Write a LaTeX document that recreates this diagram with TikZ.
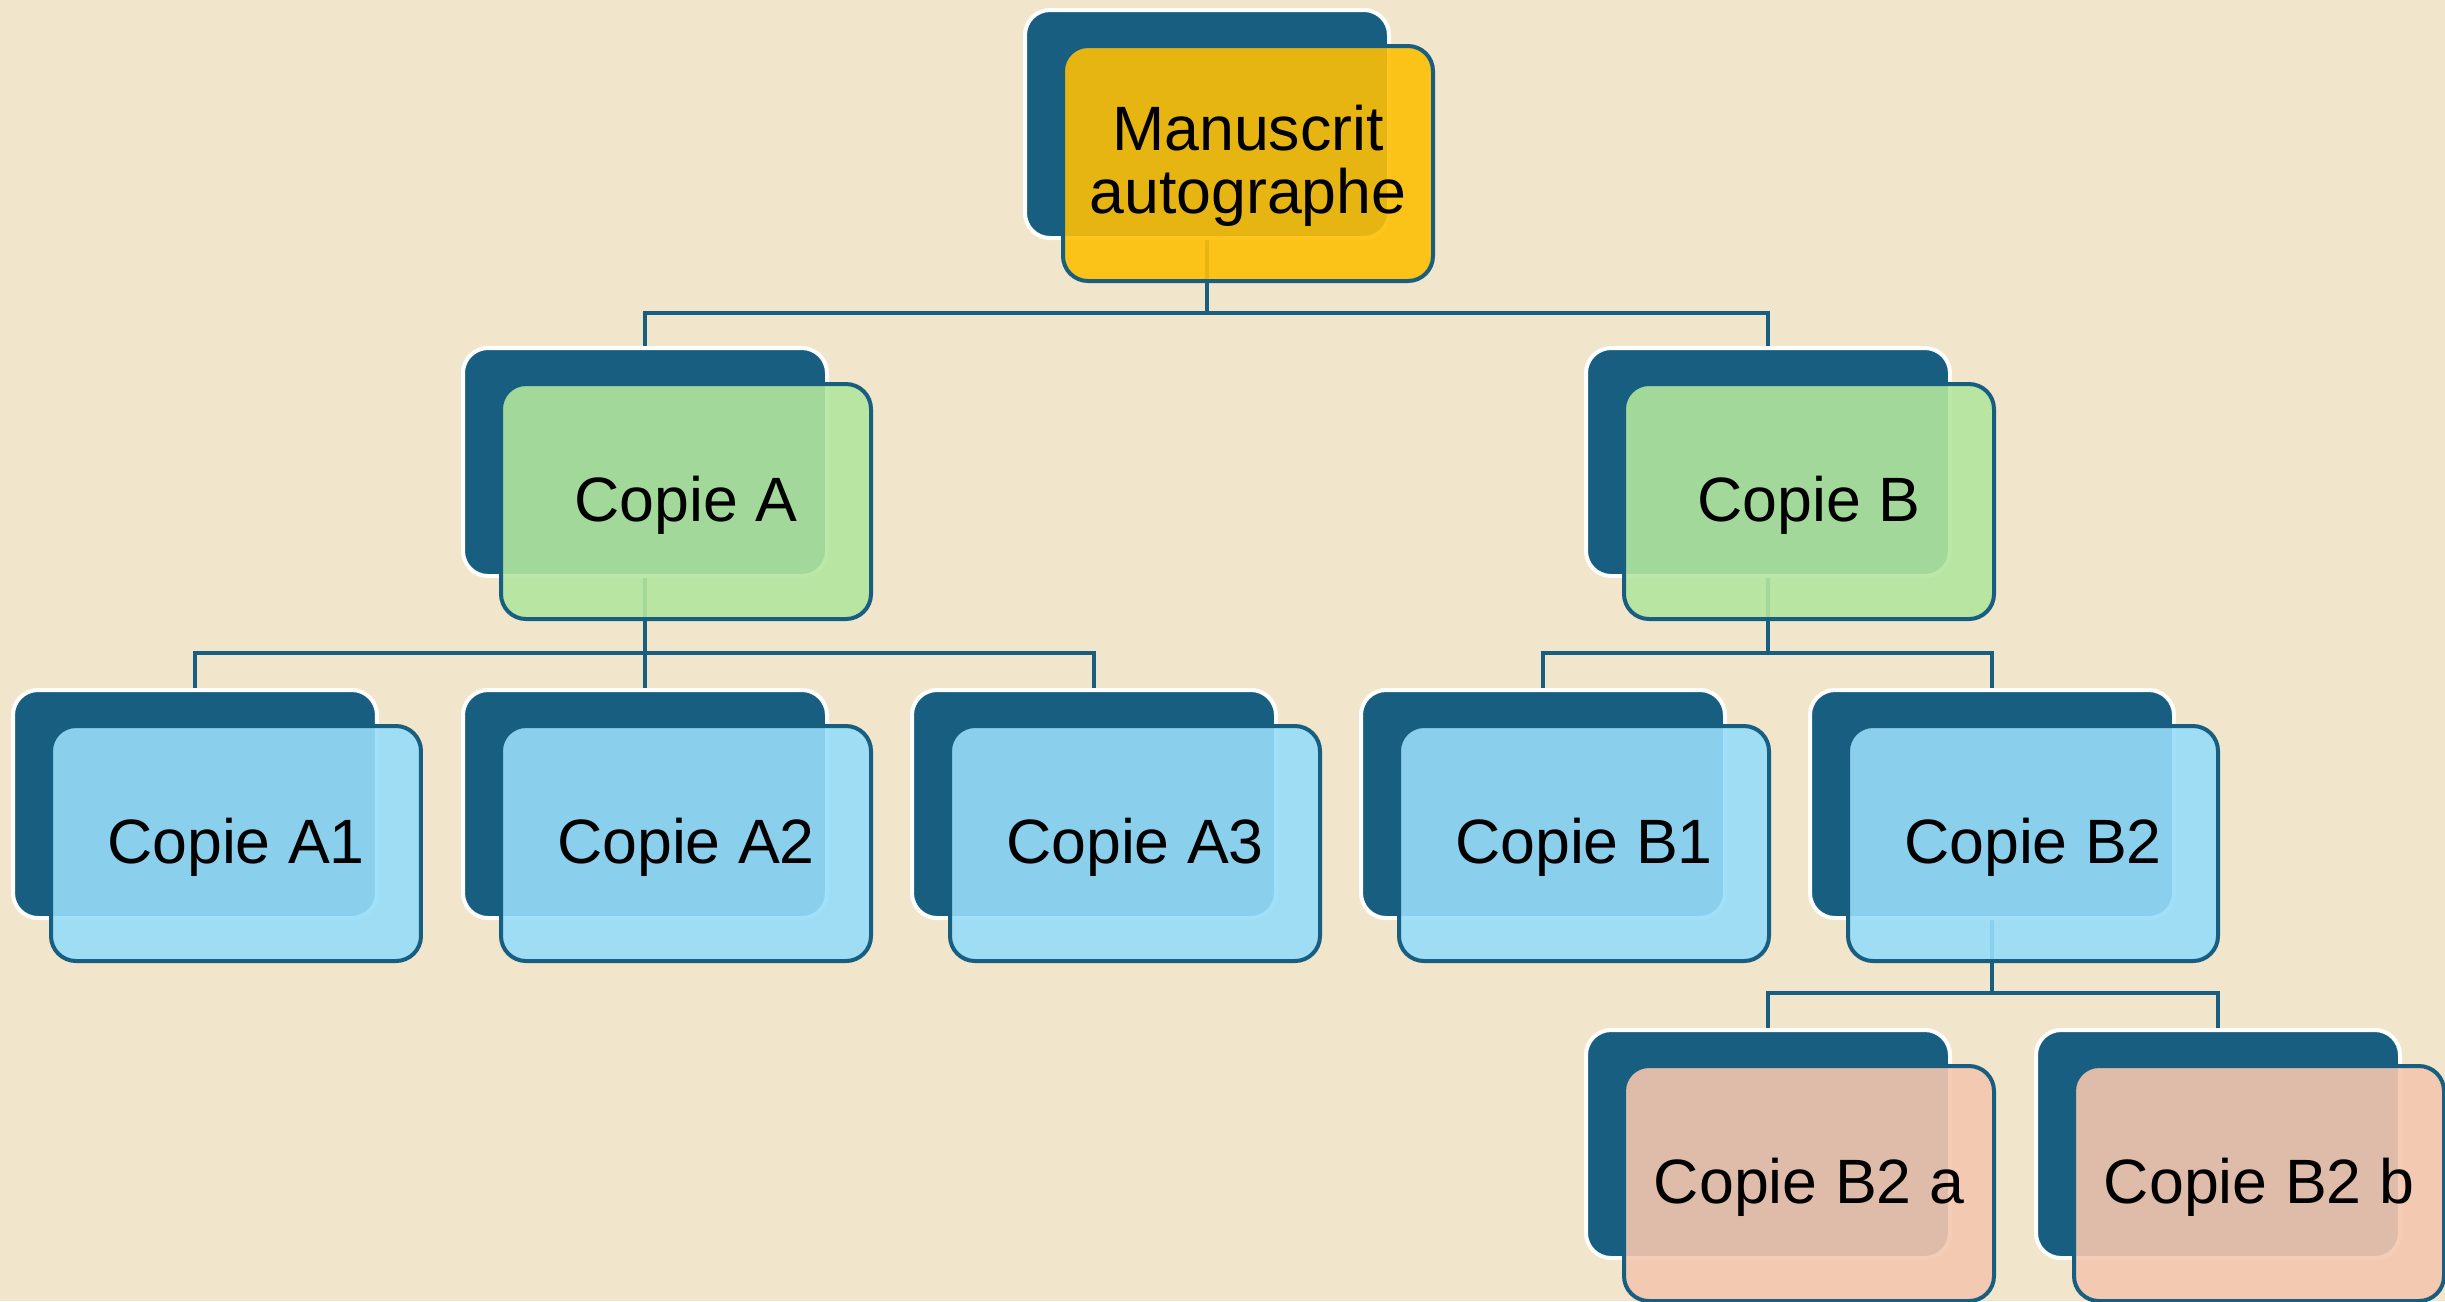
\documentclass[tikz,border=0pt]{standalone}
\usepackage{fontspec}
\setmainfont{Liberation Sans}
\definecolor{darkblue}{RGB}{23,94,128}
\definecolor{bgc}{RGB}{241,229,204}
\definecolor{fyellow}{RGB}{253,191,5}
\definecolor{fgreen}{RGB}{179,230,159}
\definecolor{fblue}{RGB}{151,221,249}
\definecolor{fsalmon}{RGB}{245,199,175}
\pgfdeclarelayer{back}
\pgfdeclarelayer{lines}
\pgfsetlayers{back,lines,main}
\tikzset{
  darkbox/.style={rectangle, rounded corners=7.5pt, fill=darkblue, draw=white, line width=1.2pt,
    minimum width=109.2pt, minimum height=68.4pt, inner sep=0pt, outer sep=0pt, anchor=north west},
  frontbox/.style={rectangle, rounded corners=7.5pt, fill=#1, fill opacity=0.9, draw=darkblue,
    line width=1.2pt, minimum width=111pt, minimum height=70.5pt, inner sep=0pt, outer sep=0pt,
    anchor=north west},
  lbl/.style={font=\fontsize{18.8pt}{18.9pt}\selectfont, text=black, inner sep=0pt,
    anchor=base, align=center},
  conn/.style={draw=darkblue, line width=1.1pt},
}
\newcommand{\orgbox}[5]{%
  \node[darkbox] (d#1) at (#2,#3) {};
  \node[frontbox=#4] (f#1) at ([shift={(38,36)}]d#1.north west) {};
  \node[lbl] (t#1) at ([shift={(0,19.5)}]f#1.center) {#5};
}
\begin{document}
\begin{tikzpicture}[x=0.3pt,y=-0.3pt]
  \begin{pgfonlayer}{back}
    \fill[bgc] (0,0) rectangle (2445,1301);
  \end{pgfonlayer}
  \useasboundingbox (0,0) rectangle (2445,1301);
  % level 0
  \node[darkbox] (d0) at (1025,10) {};
  \node[frontbox=fyellow] (f0) at ([shift={(38,36)}]d0.north west) {};
  \node[lbl, anchor=center] (t0) at ([shift={(0,2)}]f0.center) {Manuscrit\\autographe};
  % level 1
  \orgbox{A}{463}{348}{fgreen}{Copie A}
  \orgbox{B}{1586}{348}{fgreen}{Copie B}
  % level 2
  \orgbox{A1}{13}{690}{fblue}{Copie A1}
  \orgbox{A2}{463}{690}{fblue}{Copie A2}
  \orgbox{A3}{912}{690}{fblue}{Copie A3}
  \orgbox{B1}{1361}{690}{fblue}{Copie B1}
  \orgbox{B2}{1810}{690}{fblue}{Copie B2}
  % level 3
  \orgbox{B2a}{1586}{1030}{fsalmon}{Copie B2 a}
  \orgbox{B2b}{2036}{1030}{fsalmon}{Copie B2 b}
  % bus levels
  \coordinate (h0) at (0,313);
  \coordinate (h1) at (0,653);
  \coordinate (h2) at (0,993);
  \begin{pgfonlayer}{lines}
    \draw[conn] (d0.south) |- (h0 -| dA.north) -- (dA.north);
    \draw[conn] (d0.south) |- (h0 -| dB.north) -- (dB.north);
    \draw[conn] (dA.south) |- (h1 -| dA1.north) -- (dA1.north);
    \draw[conn] (dA.south) -- (dA2.north);
    \draw[conn] (dA.south) |- (h1 -| dA3.north) -- (dA3.north);
    \draw[conn] (dB.south) |- (h1 -| dB1.north) -- (dB1.north);
    \draw[conn] (dB.south) |- (h1 -| dB2.north) -- (dB2.north);
    \draw[conn] (dB2.south) |- (h2 -| dB2a.north) -- (dB2a.north);
    \draw[conn] (dB2.south) |- (h2 -| dB2b.north) -- (dB2b.north);
  \end{pgfonlayer}
\end{tikzpicture}
\end{document}
